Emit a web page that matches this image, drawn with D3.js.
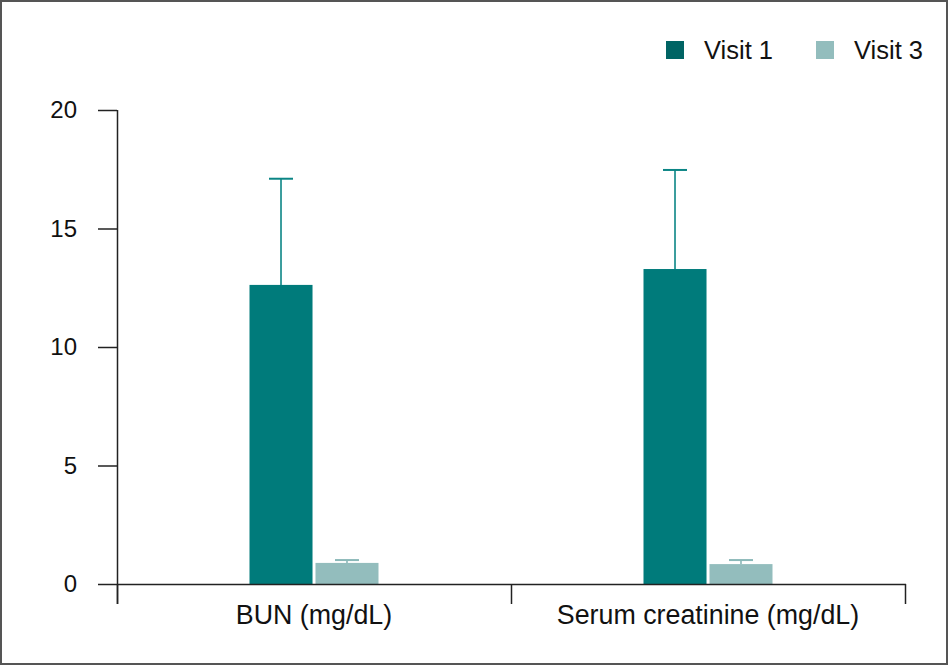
<!DOCTYPE html>
<html><head><meta charset="utf-8">
<script src="https://cdn.jsdelivr.net/npm/d3@7/dist/d3.min.js"></script>
<style>
html,body{margin:0;padding:0;background:#fff;}
svg{display:block;font-family:"Liberation Sans",Arial,sans-serif;}
</style></head>
<body><svg id="chart" width="948" height="665"></svg>
<script>
const categories = ["BUN (mg/dL)", "Serum creatinine (mg/dL)"];
const seriesNames = ["Visit 1", "Visit 3"];
const visit1Means = [12.62, 13.29];
const visit1Upper = [17.1, 17.47];
const visit3Means = [0.89, 0.84];
const visit3Upper = [1.01, 1.01];
const yTicks = [0, 5, 10, 15, 20];

const barColors = ["#007b7b", "#93bdbd"];
const legendColors = ["#006464", "#93bdbd"];
const errColors = ["#0b8585", "#8ab8b8"];

const svg = d3.select("#chart");
const W = 948, H = 665;
svg.append("rect").attr("x",1).attr("y",1).attr("width",W-2).attr("height",H-2)
  .attr("fill","#fff").attr("stroke","#555").attr("stroke-width",2);

const mLeft = 117, mRight = 905, mTop = 110, mBottom = 584;
const y = d3.scaleLinear().domain([0,20]).range([mBottom, mTop]);
const x0 = d3.scaleBand().domain(categories).range([mLeft, mRight]).paddingInner(0).paddingOuter(0);
const groupW = 129;
const x1 = d3.scaleBand().domain(seriesNames).range([0, groupW]).paddingInner(0.045);

const data = categories.map((c,i)=>({cat:c, vals:[
  {s:seriesNames[0], m:visit1Means[i], u:visit1Upper[i], k:0},
  {s:seriesNames[1], m:visit3Means[i], u:visit3Upper[i], k:1}]}));

const g = svg.append("g");
const groups = g.selectAll("g.grp").data(data).join("g")
  .attr("transform", d=>`translate(${x0(d.cat)+x0.bandwidth()/2-groupW/2},0)`);

groups.selectAll("rect").data(d=>d.vals).join("rect")
  .attr("x", d=>x1(d.s)).attr("width", x1.bandwidth())
  .attr("y", d=>y(d.m)).attr("height", d=>y(0)-y(d.m))
  .attr("fill", d=>barColors[d.k]);

const capW = 24;
groups.selectAll("line.stem").data(d=>d.vals).join("line").attr("class","stem")
  .attr("x1", d=>x1(d.s)+x1.bandwidth()/2).attr("x2", d=>x1(d.s)+x1.bandwidth()/2)
  .attr("y1", d=>y(d.m)).attr("y2", d=>y(d.u))
  .attr("stroke", d=>errColors[d.k]).attr("stroke-width",1.6);
groups.selectAll("line.cap").data(d=>d.vals).join("line").attr("class","cap")
  .attr("x1", d=>x1(d.s)+x1.bandwidth()/2-capW/2).attr("x2", d=>x1(d.s)+x1.bandwidth()/2+capW/2)
  .attr("y1", d=>y(d.u)).attr("y2", d=>y(d.u))
  .attr("stroke", d=>errColors[d.k]).attr("stroke-width",2);

// Y axis
const yAxis = d3.axisLeft(y).tickValues(yTicks).tickSize(19).tickPadding(21).tickSizeOuter(0);
const ya = svg.append("g").attr("transform",`translate(${mLeft},0)`).call(yAxis);
ya.select(".domain").attr("stroke","#222").attr("stroke-width",1.5).attr("d",`M0.5,${mTop}V${mBottom+20}`);
ya.selectAll(".tick line").attr("stroke","#222").attr("stroke-width",1.5);
ya.selectAll(".tick text").attr("font-size",24).attr("fill","#111")
  .attr("font-family","'Liberation Sans',Arial,sans-serif");

// X axis
const xa = svg.append("g").attr("transform",`translate(0,${mBottom})`);
xa.append("line").attr("x1",mLeft).attr("x2",mRight+1).attr("y1",0.5).attr("y2",0.5)
  .attr("stroke","#222").attr("stroke-width",1.5);
const bounds = [mLeft, x0(categories[1]), mRight];
xa.selectAll("line.tk").data(bounds).join("line").attr("class","tk")
  .attr("x1",d=>d+0.5).attr("x2",d=>d+0.5).attr("y1",0).attr("y2",20)
  .attr("stroke","#222").attr("stroke-width",1.5);
xa.selectAll("text").data(categories).join("text")
  .attr("x",d=>x0(d)+x0.bandwidth()/2).attr("y",39.5)
  .attr("text-anchor","middle").attr("font-size",26.8).attr("fill","#111")
  .text(d=>d);

// Legend
const leg = svg.append("g");
const legX = [666, 816];
seriesNames.forEach((s,i)=>{
  leg.append("rect").attr("x",legX[i]).attr("y",41).attr("width",18).attr("height",18).attr("fill",legendColors[i]);
  leg.append("text").attr("x",legX[i]+38).attr("y",59).attr("font-size",25.5).attr("fill","#111").text(s);
});
</script></body></html>
